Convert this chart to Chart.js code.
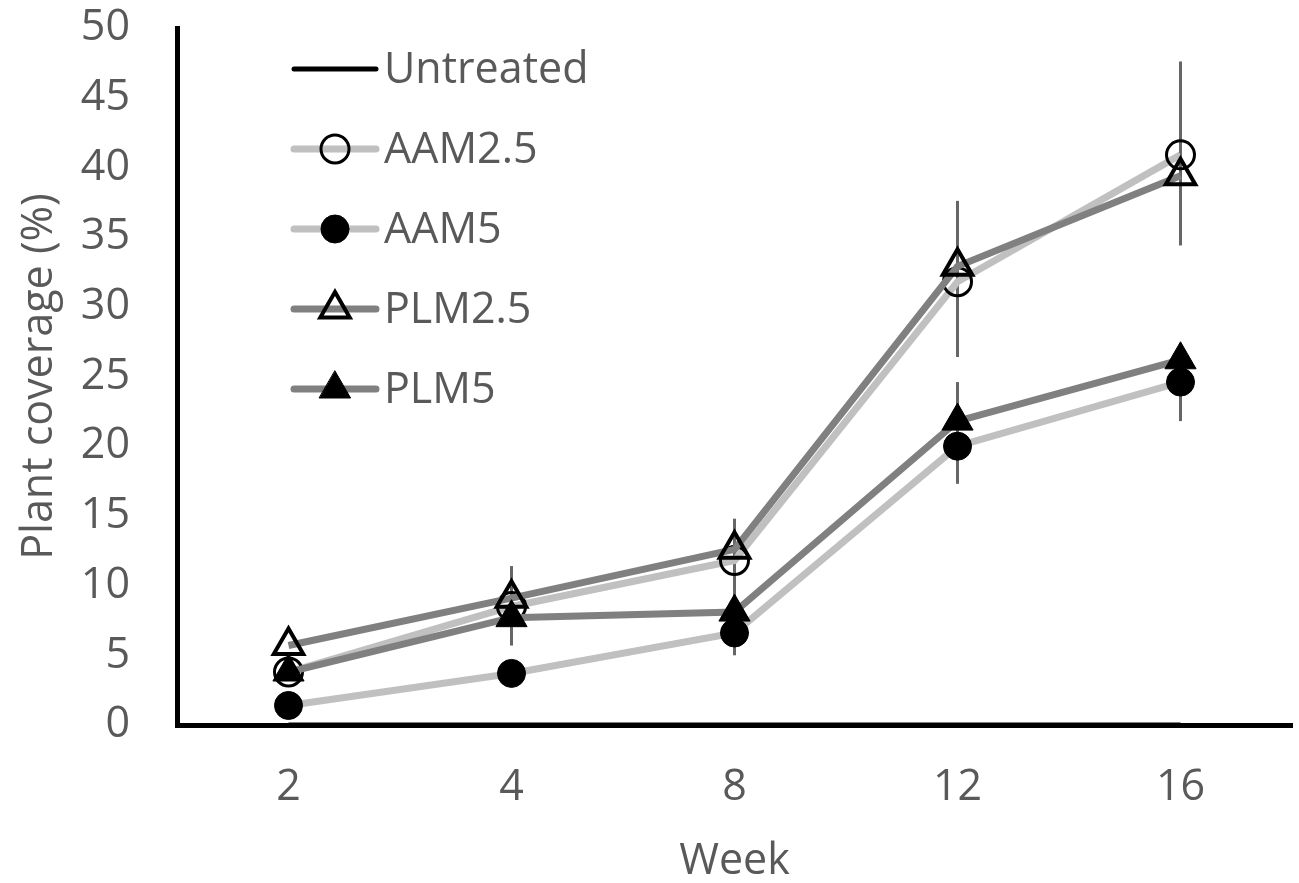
<!DOCTYPE html>
<html>
<head>
<meta charset="utf-8">
<script src="https://cdn.jsdelivr.net/npm/chart.js@4"></script>
<style>
  html, body { margin: 0; padding: 0; background: #fff; overflow: hidden; }
  canvas { display: block; }
</style>
</head>
<body>
<canvas id="chart" width="1299" height="883"></canvas>
<script>
const weeks = ['2', '4', '8', '12', '16'];
const untreated = [0, 0, 0, 0, 0];
const aam25 = [3.8, 8.5, 11.8, 31.8, 40.9];
const aam5 = [1.4, 3.7, 6.6, 20.0, 24.6];
const plm25 = [5.7, 9.1, 12.6, 32.9, 39.4];
const plm5 = [3.8, 7.7, 8.1, 21.8, 26.2];
// error bar ends, null where none is shown
const aam25Low = [null, 5.7, 8.8, 26.4, 34.4];
const aam25High = [null, 11.4, 14.8, 37.6, 47.6];
const aam5Low = [null, null, 5.0, 17.3, 21.8];
const aam5High = [null, null, 8.2, 24.6, 27.0];

const FONT = '"Open Sans", "DejaVu Sans", sans-serif';
const TEXT = '#595959';

// vertical error bars, drawn under the lines and markers
const errorBars = {
  id: 'errorBars',
  beforeDatasetsDraw(chart) {
    const { ctx, scales: { x, y } } = chart;
    ctx.save();
    ctx.strokeStyle = '#666';
    ctx.lineWidth = 3;
    chart.data.datasets.forEach(ds => {
      if (!ds.errLow) return;
      ds.errLow.forEach((lo, i) => {
        const hi = ds.errHigh[i];
        if (lo == null || hi == null) return;
        const px = x.getPixelForValue(i);
        ctx.beginPath();
        ctx.moveTo(px, y.getPixelForValue(lo));
        ctx.lineTo(px, y.getPixelForValue(hi));
        ctx.stroke();
      });
    });
    ctx.restore();
  }
};

// excel-style legend: line with marker in the middle
const lineLegend = {
  id: 'lineLegend',
  afterDraw(chart) {
    const { ctx, chartArea: a } = chart;
    ctx.save();
    chart.data.datasets.forEach((ds, i) => {
      const yy = a.top + 41 + i * 80;
      const x0 = a.left + 117, x1 = a.left + 199;
      ctx.strokeStyle = ds.borderColor;
      ctx.lineWidth = ds.borderWidth;
      ctx.lineCap = 'round';
      ctx.beginPath();
      ctx.moveTo(x0, yy);
      ctx.lineTo(x1, yy);
      ctx.stroke();
      if (ds.pointRadius > 0) {
        ctx.fillStyle = ds.pointBackgroundColor;
        ctx.strokeStyle = ds.pointBorderColor;
        ctx.lineWidth = ds.pointBorderWidth;
        Chart.helpers.drawPoint(ctx, {
          pointStyle: ds.pointStyle,
          radius: ds.pointRadius,
          borderWidth: ds.pointBorderWidth,
          rotation: 0
        }, (x0 + x1) / 2, yy);
      }
      ctx.font = '43px ' + FONT;
      ctx.fillStyle = TEXT;
      ctx.textBaseline = 'middle';
      ctx.textAlign = 'left';
      ctx.fillText(ds.label, x1 + 8, yy + 2);
    });
    ctx.restore();
  }
};

const ctx = document.getElementById('chart').getContext('2d');
const chart = new Chart(ctx, {
  type: 'line',
  data: {
    labels: weeks,
    datasets: [
      {
        label: 'Untreated', data: untreated, order: 4,
        borderColor: '#000', borderWidth: 5, pointRadius: 0
      },
      {
        label: 'AAM2.5', data: aam25, order: 3,
        borderColor: '#c0c0c0', borderWidth: 7,
        pointStyle: 'circle', pointRadius: 14, pointBorderWidth: 3,
        pointBorderColor: '#000', pointBackgroundColor: 'rgba(255,255,255,0)',
        errLow: aam25Low, errHigh: aam25High
      },
      {
        label: 'AAM5', data: aam5, order: 2,
        borderColor: '#c0c0c0', borderWidth: 7,
        pointStyle: 'circle', pointRadius: 14, pointBorderWidth: 1,
        pointBorderColor: '#000', pointBackgroundColor: '#000',
        errLow: aam5Low, errHigh: aam5High
      },
      {
        label: 'PLM2.5', data: plm25, order: 1,
        borderColor: '#808080', borderWidth: 7,
        pointStyle: 'triangle', pointRadius: 17, pointBorderWidth: 4,
        pointBorderColor: '#000', pointBackgroundColor: 'rgba(255,255,255,0)'
      },
      {
        label: 'PLM5', data: plm5, order: 0,
        borderColor: '#808080', borderWidth: 7,
        pointStyle: 'triangle', pointRadius: 18, pointBorderWidth: 1,
        pointBorderColor: '#000', pointBackgroundColor: '#000'
      }
    ]
  },
  options: {
    responsive: false,
    animation: false,
    devicePixelRatio: 1,
    layout: { autoPadding: false, padding: { top: 28, right: 7, left: 0, bottom: 0 } },
    plugins: { legend: { display: false }, tooltip: { enabled: false } },
    scales: {
      x: {
        offset: true,
        grid: { display: false, drawTicks: false },
        border: { display: true, color: '#000', width: 5 },
        ticks: { color: TEXT, font: { family: FONT, size: 43 }, padding: 37 },
        title: { display: true, text: 'Week', color: TEXT, font: { family: FONT, size: 43, lineHeight: 1 }, padding: { top: 0, bottom: 0 } },
        afterFit: s => { s.height = 158; s.paddingLeft = 0; s.paddingRight = 0; }
      },
      y: {
        min: 0, max: 50,
        grid: { display: false, drawTicks: false },
        border: { display: true, color: '#000', width: 5 },
        ticks: { stepSize: 5, color: TEXT, font: { family: FONT, size: 43 }, padding: 47 },
        title: { display: true, text: 'Plant coverage (%)', color: TEXT, font: { family: FONT, size: 43, lineHeight: 1 }, padding: { top: 18, bottom: 0 } },
        afterFit: s => { s.width = 177; s.paddingTop = 0; s.paddingBottom = 0; }
      }
    }
  },
  plugins: [errorBars, lineLegend]
});
</script>
</body>
</html>
